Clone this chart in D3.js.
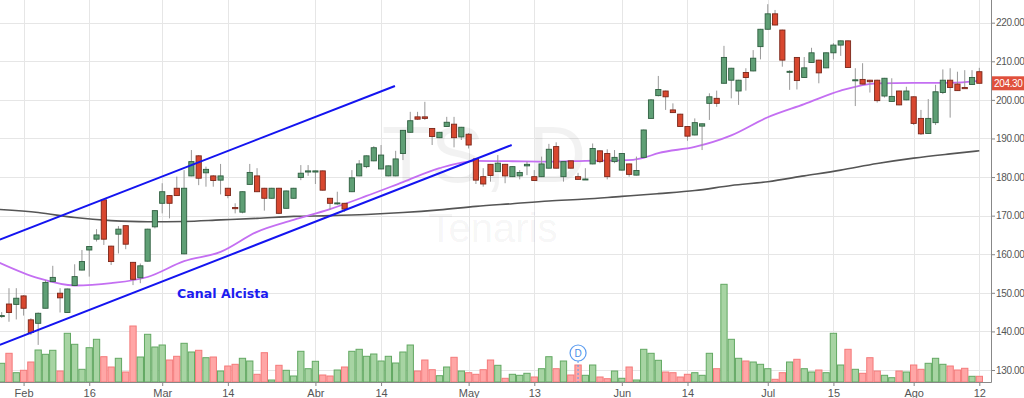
<!DOCTYPE html>
<html>
<head>
<meta charset="utf-8">
<script src="https://cdn.jsdelivr.net/npm/d3@7"></script>
<style>
  body { margin: 0; background: #fff; }
  svg { display: block; font-family: "Liberation Sans", Arial, sans-serif; }
</style>
</head>
<body>
<svg width="1024" height="398"></svg>
<script>
// daily candles, Tenaris (TS), Feb -> Ago 12
var opens = [144.0,147.1,147.0,149.2,143.0,142.1,146.0,152.9,149.9,144.9,151.9,155.9,161.1,163.9,174.1,162.1,165.2,167.4,157.9,153.9,
  158.2,167.1,173.2,175.2,177.1,160.1,180.3,185.5,181.1,180.3,179.2,177.1,172.1,170.9,178.1,180.3,177.1,174.5,177.1,171.9,
  174.5,179.9,181.3,181.3,181.6,174.5,173.2,173.2,176.2,180.3,182.7,184.2,182.1,180.3,180.3,186.1,191.6,195.6,195.6,192.6,
  190.2,193.1,193.7,190.4,191.1,184.7,180.1,183.3,181.4,183.3,180.1,180.3,182.9,180.1,180.1,182.3,187.9,180.1,184.2,180.1,
  179.4,183.4,186.8,186.1,184.0,181.8,183.4,180.5,185.1,195.2,201.1,202.3,197.4,196.3,193.1,190.9,193.2,199.1,200.4,204.3,
  205.1,202.3,207.1,207.5,213.8,218.3,222.3,218.1,207.3,211.0,205.8,209.7,210.3,208.3,212.2,214.2,215.3,205.1,205.3,205.1,
  205.1,201.0,199.6,202.3,200.0,200.8,195.2,191.3,194.1,201.9,205.1,204.1,203.2,204.0,207.3];
var highs = [145.0,151.2,151.2,149.4,143.4,144.9,153.3,157.0,151.2,151.1,157.4,161.1,162.1,166.5,174.2,162.2,167.3,167.5,158.0,157.6,
  166.6,171.4,178.4,175.3,180.1,181.8,187.0,185.7,182.7,180.5,183.4,177.2,173.2,176.3,183.4,182.3,177.2,177.2,177.2,176.5,
  177.2,183.1,183.1,181.7,181.7,174.6,176.2,173.3,181.8,184.4,185.6,188.0,188.3,183.0,186.8,192.2,196.9,196.9,199.5,192.7,
  191.7,195.6,195.6,193.0,191.4,184.8,182.3,183.4,185.7,183.4,182.8,181.8,184.0,181.8,185.3,188.6,189.0,184.1,184.3,181.1,
  182.3,188.7,186.9,187.2,187.0,186.2,183.5,185.3,192.3,200.2,206.2,202.4,199.1,196.4,193.2,195.2,193.9,201.7,202.4,214.0,
  208.3,205.2,208.2,212.9,218.4,224.8,223.3,218.2,207.7,211.1,211.1,213.5,210.4,212.3,214.7,215.4,215.4,208.2,209.5,205.2,
  205.2,205.7,205.6,202.4,203.4,200.9,197.4,200.2,203.9,207.9,208.2,207.3,207.7,207.7,208.3];
var lows = [143.5,142.5,143.1,144.1,139.1,136.5,146.0,152.8,144.9,144.8,151.8,155.8,154.2,163.3,162.4,157.2,160.2,161.3,152.0,152.5,
  158.1,166.7,170.6,169.3,175.1,160.0,180.2,177.9,177.5,177.5,175.5,174.5,170.6,170.6,178.0,176.1,171.3,174.4,170.4,171.8,
  174.4,179.2,180.3,178.2,176.5,171.5,172.8,171.0,176.1,180.2,182.3,184.1,182.0,180.2,180.2,184.4,191.5,194.8,194.8,188.3,
  190.1,193.0,187.7,189.6,187.4,178.2,177.5,178.8,181.3,178.4,180.0,179.4,180.5,179.0,180.0,182.2,182.2,178.8,182.2,179.3,
  179.3,183.3,183.6,179.4,183.6,181.7,180.1,180.4,185.0,195.1,200.9,197.4,196.6,193.0,189.4,190.8,187.0,194.8,198.2,204.2,
  200.4,198.7,202.4,207.4,210.5,218.2,219.3,208.6,202.6,202.7,205.7,209.6,204.3,208.2,210.5,211.4,208.3,198.4,204.0,201.9,
  199.3,200.6,199.5,198.6,199.9,193.5,190.9,191.2,193.5,201.5,195.4,202.3,203.1,203.9,204.3];
var closes = [144.1,144.9,148.6,146.0,139.7,144.7,152.7,154.0,148.7,151.0,154.2,158.1,162.0,165.0,163.9,158.1,166.5,162.6,153.5,157.0,
  166.5,171.3,176.2,173.2,175.2,177.1,184.0,179.7,182.0,179.1,180.3,175.2,171.8,176.2,181.2,176.2,174.5,177.1,170.6,176.4,
  177.1,181.0,181.6,181.6,176.6,173.2,173.3,171.7,179.8,183.4,185.5,187.6,185.7,182.9,184.7,192.1,194.6,195.0,195.2,190.5,
  191.6,194.2,190.2,192.9,188.3,179.2,178.2,180.4,183.6,180.3,182.7,181.2,183.3,179.1,183.4,187.2,182.3,184.0,182.3,179.4,
  179.5,187.4,184.0,180.1,185.1,186.1,180.7,181.7,192.2,200.0,202.7,200.8,196.7,193.1,190.6,194.1,193.8,200.8,199.1,211.0,
  208.2,205.1,205.8,210.8,218.3,222.3,219.4,210.3,207.4,205.0,208.3,212.2,207.0,212.2,214.2,215.3,208.4,205.2,204.1,204.7,
  199.8,205.6,200.9,198.7,202.3,193.9,191.2,195.2,202.1,205.1,203.2,202.4,202.9,205.8,204.3];
// volume, thousands of shares
var volumes = [187,287,93,117,200,320,277,317,110,487,377,127,343,427,253,150,237,100,560,250,
  477,350,370,220,257,387,300,317,243,250,110,160,177,237,210,77,293,20,167,117,
  60,307,133,207,70,60,120,150,307,327,257,280,210,257,190,300,370,110,220,123,
  63,150,247,110,93,77,123,220,167,37,77,67,87,50,133,253,133,210,70,170,
  67,170,50,33,110,37,150,20,327,287,217,100,93,50,77,93,67,287,133,977,
  427,237,210,200,177,133,27,93,200,227,133,100,120,93,487,170,327,127,87,243,
  110,67,43,110,100,170,127,187,237,177,160,120,137,57,57];

// x axis ticks (candle index -> label)
var xTickIdx = [3, 12, 22, 31, 43, 52, 64, 73, 85, 94, 105, 114, 125, 134];
var xTickLabels = ["Feb", "16", "Mar", "14", "Abr", "14", "May", "13", "Jun", "14", "Jul", "15", "Ago", "12"];
var priceTicks = [130, 140, 150, 160, 170, 180, 190, 200, 210, 220];

// moving averages (candle index, value)
var maIdx = [-0.3, 5, 10, 15, 20, 25, 30, 35, 40, 45, 50, 55, 60, 65, 70, 75, 80, 85, 88, 90, 95, 100, 105, 110, 115, 120, 125, 130, 134];
var maShort = [157.8, 153.8, 151.9, 152.5, 154.1, 158.2, 160.6, 165.8, 168.9, 171.7, 175.1, 178.7, 182.3, 184.2, 184.1, 184.0, 184.2, 184.3, 185.0, 186.2, 187.8, 190.8, 195.5, 198.9, 202.4, 204.3, 204.4, 204.4, 204.9];
var maLong = [171.6, 170.8, 169.5, 168.7, 168.4, 168.5, 168.9, 169.3, 169.8, 170.0, 170.3, 170.8, 171.5, 172.4, 173.1, 173.8, 174.3, 175.0, 175.4, 175.7, 176.5, 177.8, 178.8, 180.3, 181.8, 183.5, 184.9, 186.0, 186.8];

// "Canal Alcista" trend lines: [index, price] end points
var upperChannel = [[-0.25, 163.8], [53.9, 203.6]];
var lowerChannel = [[-0.25, 136.5], [69.9, 188.3]];

var dividendIdx = 79;
var lastPrice = 204.30;

var svg = d3.select("svg");
var W = 1024, H = 398;
var plotRight = 991, plotBottom = 382;

var x = d3.scaleLinear().domain([-0.233, 135.6]).range([0, plotRight]);
var y = d3.scaleLinear().domain([130, 220]).range([370, 22.7]);
var yv = d3.scaleLinear().domain([0, 1000]).range([plotBottom, plotBottom - 100]);
var step = x(1) - x(0);

svg.append("defs").append("clipPath").attr("id", "plot")
  .append("rect").attr("x", 0).attr("y", 0).attr("width", plotRight).attr("height", plotBottom);

// grid
var grid = svg.append("g");
grid.selectAll("line.h").data(priceTicks).enter().append("line")
  .attr("x1", 0).attr("x2", plotRight)
  .attr("y1", function(d) { return Math.round(y(d)) + 0.5; })
  .attr("y2", function(d) { return Math.round(y(d)) + 0.5; })
  .attr("stroke", "#e6e6e6");
grid.selectAll("line.v").data(xTickIdx).enter().append("line")
  .attr("y1", 0).attr("y2", plotBottom)
  .attr("x1", function(d) { return Math.round(x(d)) + 0.5; })
  .attr("x2", function(d) { return Math.round(x(d)) + 0.5; })
  .attr("stroke", "#e6e6e6");

// watermark
svg.append("text").attr("x", 484).attr("y", 182).attr("text-anchor", "middle")
  .attr("font-size", 80).attr("fill", "#000").attr("fill-opacity", 0.05).text("TS, D");
svg.append("text").attr("x", 493).attr("y", 242).attr("text-anchor", "middle")
  .attr("font-size", 40).attr("fill", "#000").attr("fill-opacity", 0.05).text("Tenaris");

var plot = svg.append("g").attr("clip-path", "url(#plot)");

function isUp(i) { return closes[i] >= opens[i]; }

// volume
plot.selectAll("rect.vol").data(volumes).enter().append("rect")
  .attr("x", function(d, i) { return x(i) - step / 2 + 0.5; })
  .attr("width", step - 1)
  .attr("y", function(d) { return yv(d); })
  .attr("height", function(d) { return plotBottom - yv(d); })
  .attr("fill", function(d, i) { return isUp(i) ? "#a7d4a3" : "#ffa6a6"; })
  .attr("stroke", function(d, i) { return isUp(i) ? "#62a862" : "#f47a7a"; })
  .attr("stroke-width", 1);

// moving averages
var line = d3.line().x(function(d) { return x(d[0]); }).y(function(d) { return y(d[1]); }).curve(d3.curveMonotoneX);
plot.append("path").datum(maIdx.map(function(d, i) { return [d, maLong[i]]; }))
  .attr("d", line).attr("fill", "none").attr("stroke", "#555").attr("stroke-width", 1.6);
plot.append("path").datum(maIdx.map(function(d, i) { return [d, maShort[i]]; }))
  .attr("d", line).attr("fill", "none").attr("stroke", "#c46ff2").attr("stroke-width", 1.8);

// candles
var candle = plot.selectAll("g.candle").data(closes).enter().append("g");
candle.append("line")
  .attr("x1", function(d, i) { return x(i); }).attr("x2", function(d, i) { return x(i); })
  .attr("y1", function(d, i) { return y(highs[i]); })
  .attr("y2", function(d, i) { return y(lows[i]); })
  .attr("stroke", "#999").attr("stroke-width", 1);
candle.append("rect")
  .attr("x", function(d, i) { return x(i) - 2.6; })
  .attr("width", 5.2)
  .attr("y", function(d, i) { return y(Math.max(opens[i], closes[i])); })
  .attr("height", function(d, i) { return Math.max(1, Math.abs(y(opens[i]) - y(closes[i]))); })
  .attr("fill", function(d, i) { return isUp(i) ? "#5f9f75" : "#d8472f"; })
  .attr("stroke", function(d, i) { return isUp(i) ? "#2f5f40" : "#7a2619"; })
  .attr("stroke-width", 0.9);

// channel
var chLine = d3.line().x(function(d) { return x(d[0]); }).y(function(d) { return y(d[1]); });
[upperChannel, lowerChannel].forEach(function(c) {
  plot.append("path").attr("d", chLine(c)).attr("stroke", "#1414f0").attr("stroke-width", 2).attr("fill", "none");
});
svg.append("text").attr("x", 177).attr("y", 297.5)
  .attr("font-family", "DejaVu Sans, Verdana, sans-serif").attr("font-weight", "bold")
  .attr("font-size", 12.6).attr("fill", "#1c1cf0").text("Canal Alcista");

// dividend marker
var dx = x(dividendIdx);
svg.append("line").attr("x1", dx).attr("x2", dx).attr("y1", 361).attr("y2", plotBottom)
  .attr("stroke", "#5b9cf0").attr("stroke-dasharray", "2,2");
svg.append("circle").attr("cx", dx).attr("cy", 353).attr("r", 8)
  .attr("fill", "#fff").attr("stroke", "#5b9cf0").attr("stroke-width", 1.2);
svg.append("text").attr("x", dx).attr("y", 357).attr("text-anchor", "middle")
  .attr("font-size", 10).attr("fill", "#4a8ee8").text("D");

// axes
var yAxis = svg.append("g").attr("transform", "translate(" + plotRight + ",0)")
  .call(d3.axisRight(y).tickValues(priceTicks).tickFormat(d3.format(".2f")).tickSize(4).tickPadding(1));
var xAxis = svg.append("g").attr("transform", "translate(0," + plotBottom + ")")
  .call(d3.axisBottom(x).tickValues(xTickIdx).tickFormat(function(d, i) { return xTickLabels[i]; }).tickSize(4).tickPadding(3));
[yAxis, xAxis].forEach(function(a) {
  a.select(".domain").remove();
  a.selectAll(".tick line").attr("stroke", "#888");
  a.selectAll("text").attr("fill", "#555").attr("font-family", "Liberation Sans, Arial, sans-serif");
});
xAxis.selectAll("text").attr("font-size", 11);
yAxis.selectAll("text").attr("font-size", 10).attr("letter-spacing", -0.35);
svg.append("line").attr("x1", plotRight + 0.5).attr("x2", plotRight + 0.5).attr("y1", 0).attr("y2", plotBottom + 0.5)
  .attr("stroke", "#888");
svg.append("line").attr("x1", 0).attr("x2", plotRight + 0.5).attr("y1", plotBottom + 0.5).attr("y2", plotBottom + 0.5)
  .attr("stroke", "#888");

// last price tag
var ly = y(lastPrice);
svg.append("rect").attr("x", plotRight + 1).attr("y", ly - 7).attr("width", W - plotRight - 1).attr("height", 14)
  .attr("fill", "#e0503c");
svg.append("text").attr("x", plotRight + 3).attr("y", ly + 3.5).attr("font-size", 10).attr("letter-spacing", -0.35)
  .attr("fill", "#fff").text(d3.format(".2f")(lastPrice));
</script>
</body>
</html>
